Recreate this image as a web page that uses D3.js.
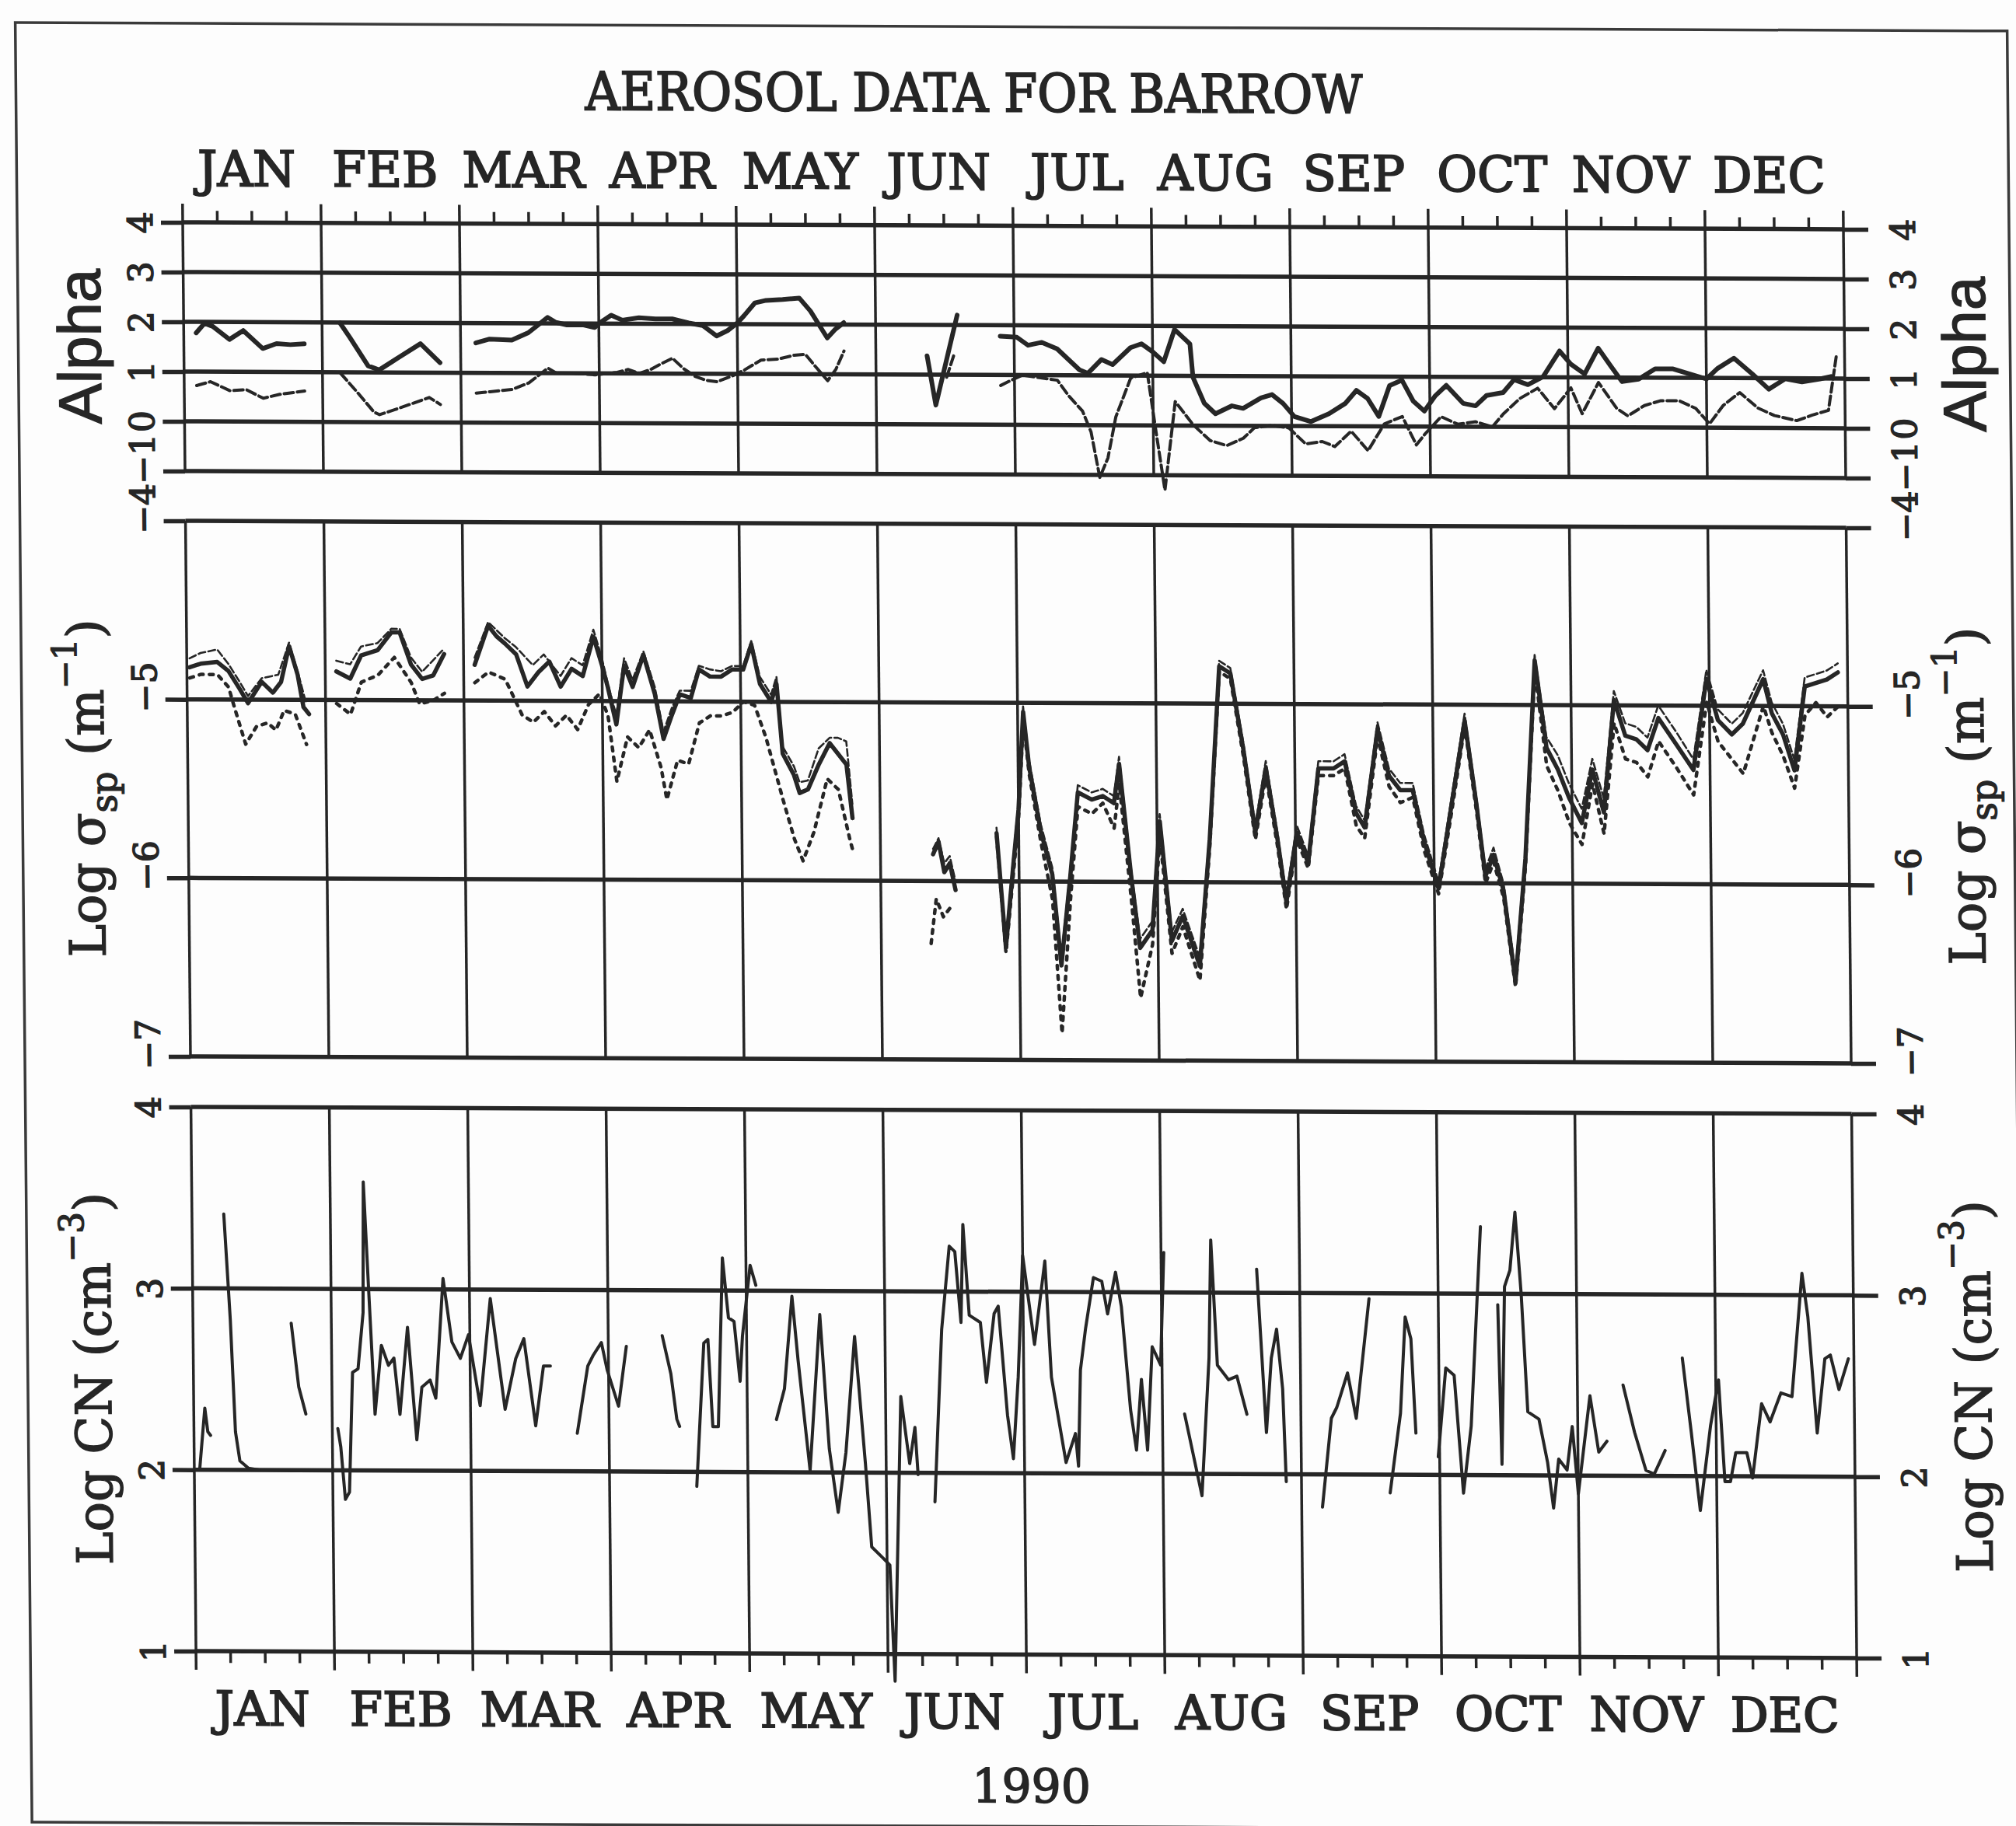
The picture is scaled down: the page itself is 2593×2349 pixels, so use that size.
<!DOCTYPE html>
<html>
<head>
<meta charset="utf-8">
<script src="https://cdn.jsdelivr.net/npm/d3@7"></script>
<style>
body { margin: 0; background: #fdfdfd; }
</style>
</head>
<body>
<script>
var width = 2593, height = 2349;

var months = ["JAN", "FEB", "MAR", "APR", "MAY", "JUN", "JUL", "AUG", "SEP", "OCT", "NOV", "DEC"];
var alphaTicks = [-1, 0, 1, 2, 3, 4];
var sigmaTicks = [-7, -6, -5, -4];
var cnTicks = [1, 2, 3, 4];

// time in months from 1 Jan 1990 (0 = start of JAN, 12 = end of DEC); null = gap in record
var alphaHi = [[0.09,1.78],[0.15,1.97],[0.21,1.91],[0.33,1.65],[0.43,1.83],[0.57,1.47],[0.67,1.57],[0.77,1.55],[0.87,1.57],null,
  [1.13,1.99],[1.2,1.7],[1.33,1.13],[1.41,1.05],[1.55,1.3],[1.71,1.58],[1.85,1.2],null,
  [2.11,1.6],[2.21,1.68],[2.37,1.66],[2.49,1.81],[2.63,2.12],[2.69,2.02],[2.77,1.97],[2.89,1.97],[2.97,1.92],[3.01,2.02],[3.09,2.17],[3.17,2.07],[3.29,2.12],[3.41,2.1],[3.53,2.1],[3.65,2.02],[3.75,1.97],[3.85,1.76],[3.93,1.87],[4.0,2.02],[4.05,2.17],[4.13,2.43],[4.21,2.48],[4.33,2.5],[4.45,2.53],[4.53,2.27],[4.61,1.91],[4.65,1.73],[4.71,1.91],[4.77,2.04],null,
  [5.37,1.38],[5.43,0.39],[5.59,2.2],null,
  [5.9,1.78],[6.02,1.76],[6.1,1.6],[6.2,1.66],[6.31,1.53],[6.39,1.32],[6.47,1.11],[6.53,1.04],[6.63,1.32],[6.71,1.22],[6.84,1.56],[6.92,1.64],[7.0,1.48],[7.08,1.28],[7.16,1.93],[7.27,1.64],[7.29,0.97],[7.37,0.45],[7.45,0.24],[7.57,0.4],[7.65,0.35],[7.78,0.56],[7.86,0.63],[7.94,0.45],[8.02,0.19],[8.14,0.09],[8.27,0.25],[8.39,0.46],[8.47,0.72],[8.55,0.56],[8.63,0.2],[8.71,0.82],[8.8,0.93],[8.88,0.51],[8.96,0.31],[9.04,0.62],[9.12,0.83],[9.24,0.47],[9.33,0.42],[9.41,0.63],[9.53,0.69],[9.61,0.95],[9.71,0.85],[9.82,1.01],[9.94,1.53],[10.02,1.27],[10.12,1.07],[10.22,1.59],[10.31,1.23],[10.39,0.92],[10.51,0.97],[10.63,1.18],[10.76,1.18],[10.88,1.08],[11.0,0.98],[11.08,1.19],[11.2,1.4],[11.33,1.09],[11.45,0.78],[11.57,0.99],[11.69,0.93],[11.82,0.99],[11.9,1.04]];

var alphaLo = [[0.09,0.72],[0.19,0.8],[0.33,0.62],[0.45,0.64],[0.57,0.47],[0.69,0.55],[0.87,0.62],null,
  [1.13,0.98],[1.25,0.6],[1.37,0.2],[1.41,0.15],[1.57,0.3],[1.77,0.5],[1.85,0.36],null,
  [2.11,0.59],[2.21,0.62],[2.37,0.67],[2.49,0.8],[2.63,1.1],[2.69,1.0],[2.81,1.0],[2.97,0.97],[3.13,1.02],[3.21,1.08],[3.29,1.0],[3.37,1.08],[3.45,1.2],[3.53,1.31],[3.61,1.1],[3.69,0.95],[3.77,0.87],[3.85,0.84],[3.97,0.97],[4.05,1.08],[4.17,1.28],[4.29,1.3],[4.41,1.38],[4.49,1.4],[4.57,1.13],[4.65,0.87],[4.71,1.1],[4.77,1.47],null,
  [5.51,0.95],[5.57,1.45],null,
  [5.9,0.79],[5.98,0.9],[6.06,1.0],[6.18,0.95],[6.31,0.9],[6.39,0.59],[6.49,0.28],[6.55,-0.14],[6.61,-1.05],[6.67,-0.66],[6.73,0.17],[6.84,0.95],[6.96,1.06],[7.02,-0.14],[7.08,-1.3],[7.16,0.48],[7.29,0.01],[7.41,-0.3],[7.53,-0.4],[7.65,-0.25],[7.73,-0.04],[7.86,0.01],[7.98,-0.04],[8.1,-0.36],[8.22,-0.31],[8.31,-0.41],[8.43,-0.1],[8.55,-0.49],[8.67,0.05],[8.8,0.2],[8.9,-0.37],[8.96,-0.16],[9.08,0.2],[9.2,0.05],[9.33,0.1],[9.45,0.0],[9.53,0.26],[9.65,0.57],[9.78,0.78],[9.9,0.37],[10.02,0.79],[10.1,0.27],[10.22,0.9],[10.35,0.38],[10.43,0.23],[10.55,0.44],[10.67,0.54],[10.8,0.54],[10.92,0.39],[11.02,0.08],[11.12,0.45],[11.24,0.71],[11.37,0.4],[11.49,0.25],[11.65,0.15],[11.76,0.26],[11.88,0.36],[11.94,1.45]];

var sigma550 = [[0.02,-4.82],[0.1,-4.8],[0.22,-4.79],[0.3,-4.84],[0.38,-4.94],[0.44,-5.02],[0.54,-4.9],[0.62,-4.96],[0.68,-4.9],[0.74,-4.7],[0.8,-4.86],[0.84,-5.04],[0.88,-5.08],null,
  [1.08,-4.84],[1.18,-4.88],[1.26,-4.75],[1.38,-4.72],[1.48,-4.62],[1.54,-4.62],[1.62,-4.8],[1.7,-4.88],[1.78,-4.86],[1.86,-4.74],null,
  [2.08,-4.8],[2.18,-4.58],[2.24,-4.64],[2.3,-4.68],[2.38,-4.74],[2.46,-4.92],[2.54,-4.84],[2.62,-4.78],[2.7,-4.92],[2.78,-4.82],[2.86,-4.86],[2.94,-4.64],[3.0,-4.8],[3.04,-4.92],[3.1,-5.13],[3.16,-4.8],[3.22,-4.92],[3.3,-4.74],[3.38,-4.96],[3.44,-5.21],[3.5,-5.08],[3.56,-4.96],[3.64,-4.98],[3.7,-4.82],[3.78,-4.86],[3.86,-4.86],[3.94,-4.82],[4.02,-4.82],[4.08,-4.68],[4.14,-4.9],[4.22,-5.0],[4.26,-4.9],[4.3,-5.29],[4.38,-5.41],[4.42,-5.51],[4.48,-5.49],[4.56,-5.35],[4.64,-5.23],[4.7,-5.29],[4.76,-5.35],[4.8,-5.65],null,
  [5.38,-5.85],[5.42,-5.78],[5.46,-5.95],[5.5,-5.9],[5.54,-6.05],null,
  [5.84,-5.73],[5.9,-6.37],[5.96,-5.9],[6.0,-5.6],[6.04,-5.05],[6.08,-5.36],[6.16,-5.72],[6.24,-5.96],[6.3,-6.47],[6.37,-5.97],[6.43,-5.5],[6.53,-5.54],[6.61,-5.52],[6.69,-5.56],[6.73,-5.34],[6.81,-5.97],[6.87,-6.37],[6.96,-6.27],[7.02,-5.66],[7.1,-6.33],[7.18,-6.19],[7.3,-6.47],[7.38,-5.76],[7.46,-4.79],[7.54,-4.83],[7.63,-5.26],[7.71,-5.72],[7.79,-5.36],[7.87,-5.76],[7.93,-6.11],[8.01,-5.72],[8.09,-5.89],[8.17,-5.36],[8.28,-5.36],[8.36,-5.32],[8.44,-5.61],[8.5,-5.69],[8.6,-5.14],[8.68,-5.4],[8.76,-5.48],[8.85,-5.48],[8.93,-5.77],[9.03,-6.03],[9.13,-5.56],[9.23,-5.09],[9.31,-5.56],[9.37,-5.96],[9.43,-5.84],[9.5,-6.04],[9.58,-6.55],[9.66,-5.86],[9.74,-4.75],[9.82,-5.24],[9.9,-5.36],[9.98,-5.52],[10.07,-5.66],[10.15,-5.36],[10.23,-5.6],[10.31,-4.97],[10.39,-5.17],[10.47,-5.19],[10.55,-5.25],[10.63,-5.07],[10.76,-5.22],[10.88,-5.36],[10.98,-4.85],[11.06,-5.08],[11.16,-5.16],[11.24,-5.1],[11.39,-4.85],[11.45,-5.04],[11.53,-5.16],[11.61,-5.36],[11.69,-4.89],[11.77,-4.87],[11.85,-4.85],[11.93,-4.81]];

var sigma450 = [[0.02,-4.77],[0.1,-4.74],[0.22,-4.72],[0.3,-4.8],[0.38,-4.9],[0.44,-4.98],[0.54,-4.88],[0.66,-4.86],[0.74,-4.68],[0.8,-4.84],[0.86,-5.02],null,
  [1.08,-4.78],[1.18,-4.8],[1.26,-4.7],[1.38,-4.68],[1.48,-4.6],[1.54,-4.6],[1.62,-4.76],[1.7,-4.84],[1.86,-4.71],null,
  [2.08,-4.76],[2.18,-4.56],[2.3,-4.65],[2.38,-4.7],[2.5,-4.8],[2.58,-4.74],[2.7,-4.86],[2.78,-4.76],[2.86,-4.8],[2.94,-4.6],[3.0,-4.76],[3.04,-4.9],[3.1,-5.08],[3.16,-4.76],[3.22,-4.88],[3.3,-4.72],[3.38,-4.92],[3.44,-5.17],[3.5,-5.04],[3.56,-4.94],[3.64,-4.94],[3.7,-4.8],[3.78,-4.82],[3.86,-4.83],[3.94,-4.8],[4.02,-4.8],[4.08,-4.66],[4.14,-4.86],[4.22,-4.96],[4.26,-4.86],[4.3,-5.25],[4.38,-5.36],[4.42,-5.45],[4.48,-5.44],[4.56,-5.26],[4.64,-5.2],[4.7,-5.2],[4.76,-5.22],[4.8,-5.57],null,
  [5.38,-5.82],[5.42,-5.76],[5.46,-5.9],[5.5,-5.86],[5.54,-6.0],null,
  [5.84,-5.7],[5.9,-6.33],[5.96,-5.86],[6.0,-5.56],[6.04,-5.02],[6.08,-5.32],[6.16,-5.68],[6.24,-5.92],[6.3,-6.42],[6.37,-5.94],[6.43,-5.46],[6.53,-5.5],[6.61,-5.48],[6.69,-5.52],[6.73,-5.3],[6.81,-5.93],[6.87,-6.32],[6.96,-6.22],[7.02,-5.62],[7.1,-6.28],[7.18,-6.15],[7.3,-6.42],[7.38,-5.72],[7.46,-4.76],[7.54,-4.8],[7.63,-5.22],[7.71,-5.68],[7.79,-5.32],[7.87,-5.72],[7.93,-6.07],[8.01,-5.68],[8.09,-5.85],[8.17,-5.32],[8.28,-5.32],[8.36,-5.28],[8.44,-5.57],[8.5,-5.65],[8.6,-5.1],[8.68,-5.36],[8.76,-5.44],[8.85,-5.44],[8.93,-5.73],[9.03,-5.99],[9.13,-5.52],[9.23,-5.05],[9.31,-5.52],[9.37,-5.92],[9.43,-5.8],[9.5,-6.0],[9.58,-6.5],[9.66,-5.82],[9.74,-4.72],[9.82,-5.18],[9.9,-5.28],[9.98,-5.44],[10.07,-5.58],[10.15,-5.3],[10.23,-5.52],[10.31,-4.92],[10.39,-5.1],[10.47,-5.12],[10.55,-5.18],[10.63,-5.0],[10.76,-5.15],[10.88,-5.3],[10.98,-4.8],[11.06,-5.02],[11.16,-5.1],[11.24,-5.04],[11.39,-4.8],[11.45,-4.98],[11.53,-5.1],[11.61,-5.3],[11.69,-4.84],[11.77,-4.82],[11.85,-4.8],[11.93,-4.76]];

var sigma700 = [[0.02,-4.88],[0.1,-4.86],[0.22,-4.86],[0.3,-4.93],[0.34,-5.04],[0.42,-5.25],[0.5,-5.15],[0.58,-5.13],[0.64,-5.17],[0.7,-5.06],[0.78,-5.08],[0.86,-5.25],null,
  [1.08,-5.02],[1.18,-5.08],[1.26,-4.9],[1.38,-4.86],[1.5,-4.76],[1.62,-4.9],[1.68,-5.02],[1.78,-5.0],[1.86,-4.96],null,
  [2.08,-4.9],[2.18,-4.84],[2.3,-4.88],[2.42,-5.08],[2.5,-5.12],[2.58,-5.06],[2.66,-5.14],[2.74,-5.08],[2.82,-5.16],[2.9,-5.02],[2.98,-4.96],[3.04,-5.08],[3.1,-5.45],[3.18,-5.2],[3.26,-5.26],[3.34,-5.16],[3.42,-5.37],[3.46,-5.55],[3.54,-5.33],[3.62,-5.35],[3.7,-5.12],[3.78,-5.08],[3.86,-5.08],[3.94,-5.06],[4.02,-5.0],[4.1,-5.02],[4.18,-5.2],[4.3,-5.55],[4.38,-5.77],[4.44,-5.89],[4.52,-5.73],[4.62,-5.43],[4.7,-5.49],[4.78,-5.77],[4.8,-5.83],null,
  [5.36,-6.35],[5.4,-6.1],[5.45,-6.2],[5.5,-6.15],null,
  [5.84,-5.75],[5.9,-6.4],[5.96,-5.95],[6.0,-5.65],[6.04,-5.1],[6.08,-5.4],[6.16,-5.78],[6.24,-6.1],[6.3,-6.85],[6.37,-6.1],[6.43,-5.58],[6.53,-5.62],[6.61,-5.56],[6.69,-5.7],[6.73,-5.45],[6.81,-6.1],[6.87,-6.65],[6.96,-6.35],[7.02,-5.75],[7.1,-6.4],[7.18,-6.25],[7.3,-6.55],[7.38,-5.8],[7.46,-4.82],[7.54,-4.86],[7.63,-5.3],[7.71,-5.76],[7.79,-5.4],[7.87,-5.8],[7.93,-6.15],[8.01,-5.76],[8.09,-5.92],[8.17,-5.4],[8.28,-5.4],[8.36,-5.36],[8.44,-5.68],[8.5,-5.75],[8.6,-5.18],[8.68,-5.46],[8.76,-5.55],[8.85,-5.52],[8.93,-5.82],[9.03,-6.06],[9.13,-5.6],[9.23,-5.12],[9.31,-5.6],[9.37,-6.0],[9.43,-5.88],[9.5,-6.08],[9.58,-6.58],[9.66,-5.9],[9.74,-4.8],[9.82,-5.34],[9.9,-5.48],[9.98,-5.66],[10.07,-5.78],[10.15,-5.44],[10.23,-5.72],[10.31,-5.1],[10.39,-5.3],[10.47,-5.32],[10.55,-5.4],[10.63,-5.2],[10.76,-5.35],[10.88,-5.5],[10.98,-4.98],[11.06,-5.2],[11.16,-5.3],[11.24,-5.38],[11.39,-5.0],[11.45,-5.15],[11.53,-5.28],[11.61,-5.46],[11.69,-5.05],[11.77,-4.98],[11.85,-5.06],[11.93,-5.0]];

var logCN = [[0.04,2.01],[0.08,2.34],[0.1,2.21],[0.12,2.19],null,
  [0.23,3.41],[0.27,2.83],[0.3,2.21],[0.33,2.05],[0.39,2.01],[0.47,2.0],null,
  [0.71,2.81],[0.76,2.46],[0.81,2.31],null,
  [1.04,2.23],[1.06,2.13],[1.09,1.84],[1.12,1.88],[1.15,2.54],[1.19,2.56],[1.23,2.87],[1.24,3.59],[1.27,3.03],[1.31,2.31],[1.36,2.69],[1.41,2.58],[1.45,2.62],[1.49,2.31],[1.55,2.79],[1.61,2.17],[1.65,2.46],[1.71,2.5],[1.75,2.4],[1.81,3.06],[1.87,2.71],[1.93,2.62],[1.99,2.75],[2.07,2.36],[2.15,2.95],[2.25,2.34],[2.33,2.62],[2.39,2.73],[2.47,2.25],[2.53,2.58],[2.58,2.58],null,
  [2.77,2.21],[2.85,2.58],[2.89,2.64],[2.95,2.71],[2.99,2.56],[3.07,2.36],[3.13,2.69],null,
  [3.39,2.75],[3.45,2.54],[3.49,2.29],[3.51,2.25],null,
  [3.63,1.92],[3.69,2.71],[3.72,2.73],[3.75,2.25],[3.79,2.25],[3.83,3.18],[3.87,2.85],[3.91,2.83],[3.95,2.5],[3.97,2.75],[4.03,3.14],[4.07,3.03],null,
  [4.21,2.29],[4.27,2.46],[4.33,2.97],[4.37,2.62],[4.45,2.01],[4.53,2.87],[4.59,2.13],[4.65,1.78],[4.71,2.11],[4.78,2.75],[4.85,2.05],[4.89,1.59],[4.97,1.53],[5.02,1.49],[5.05,0.85],[5.11,2.42],[5.17,2.05],[5.21,2.25],[5.23,1.99],null,
  [5.35,1.84],[5.41,2.79],[5.47,3.25],[5.51,3.22],[5.55,2.83],[5.57,3.37],[5.61,2.87],[5.69,2.83],[5.73,2.5],[5.79,2.88],[5.82,2.92],[5.88,2.32],[5.92,2.08],[5.96,2.53],[6.0,3.2],[6.08,2.71],[6.16,3.17],[6.2,2.53],[6.3,2.06],[6.37,2.22],[6.39,2.04],[6.41,2.57],[6.45,2.8],[6.51,3.08],[6.57,3.06],[6.61,2.88],[6.67,3.11],[6.71,2.92],[6.77,2.35],[6.81,2.13],[6.85,2.52],[6.89,2.13],[6.93,2.7],[6.99,2.6],[7.02,3.22],null,
  [7.16,2.33],[7.28,1.88],[7.34,2.64],[7.36,3.29],[7.4,2.6],[7.48,2.52],[7.54,2.54],[7.61,2.33],null,
  [7.69,3.13],[7.75,2.23],[7.79,2.64],[7.83,2.8],[7.87,2.47],[7.89,1.96],null,
  [8.15,1.82],[8.22,2.31],[8.26,2.37],[8.34,2.56],[8.4,2.31],[8.5,2.97],null,
  [8.64,1.9],[8.72,2.34],[8.76,2.87],[8.8,2.75],[8.83,2.23],null,
  [8.99,2.1],[9.05,2.59],[9.11,2.55],[9.17,1.9],[9.23,2.27],[9.31,3.37],null,
  [9.43,2.94],[9.45,2.06],[9.48,3.04],[9.52,3.13],[9.56,3.45],[9.6,3.0],[9.64,2.35],[9.72,2.31],[9.78,2.07],[9.82,1.82],[9.86,2.09],[9.92,2.03],[9.96,2.27],[10.0,1.9],[10.09,2.44],[10.15,2.13],[10.21,2.19],null,
  [10.33,2.5],[10.41,2.24],[10.49,2.03],[10.55,2.01],[10.63,2.14],null,
  [10.76,2.65],[10.82,2.24],[10.88,1.81],[10.96,2.28],[11.02,2.53],[11.06,1.97],[11.1,1.97],[11.14,2.13],[11.22,2.13],[11.26,1.99],[11.33,2.4],[11.39,2.3],[11.47,2.46],[11.55,2.44],[11.63,3.12],[11.67,2.88],[11.73,2.24],[11.79,2.65],[11.83,2.67],[11.89,2.48],[11.96,2.65]];

var ink = "#262626";
var serif = "'DejaVu Serif', 'Liberation Serif', serif";

var svg = d3.select("body").append("svg")
    .attr("width", width)
    .attr("height", height);

svg.append("rect")
    .attr("width", width)
    .attr("height", height)
    .attr("fill", "#fdfdfd");

// the scan is slightly sheared, so the whole figure is too
var g = svg.append("g")
    .attr("transform", "matrix(1,0.0042,0.0093,1,-2.66,-0.99)");

g.append("rect")
    .attr("x", 22).attr("y", 30)
    .attr("width", 2562).attr("height", 2315)
    .attr("fill", "none")
    .attr("stroke", "#3a3a3a")
    .attr("stroke-width", 3.5);

var x = d3.scaleLinear().domain([0, 12]).range([235, 2371]);
var yA = d3.scaleLinear().domain([-1, 4]).range([606, 286]);
var yS = d3.scaleLinear().domain([-7, -4]).range([1359, 670]);
var yC = d3.scaleLinear().domain([1, 4]).range([2124, 1424]);

var panels = [
  {y: yA, ticks: alphaTicks, top: 24, bottom: 0},
  {y: yS, ticks: sigmaTicks, top: 0, bottom: 0},
  {y: yC, ticks: cnTicks, top: 0, bottom: 24}
];

panels.forEach(function(p) {
  var r = p.y.range();
  // month lines
  g.append("g").selectAll("line")
    .data(d3.range(13))
    .join("line")
    .attr("x1", function(d) { return x(d); })
    .attr("x2", function(d) { return x(d); })
    .attr("y1", r[1] - p.top)
    .attr("y2", r[0] + p.bottom)
    .attr("stroke", ink)
    .attr("stroke-width", 3.5);
  // value lines
  g.append("g").selectAll("line")
    .data(p.ticks)
    .join("line")
    .attr("x1", x(0))
    .attr("x2", x(12))
    .attr("y1", function(d) { return p.y(d); })
    .attr("y2", function(d) { return p.y(d); })
    .attr("stroke", ink)
    .attr("stroke-width", 5.5);

  var left = g.append("g")
    .attr("transform", "translate(" + x(0) + ",0)")
    .call(d3.axisLeft(p.y).tickValues(p.ticks).tickSize(28).tickSizeOuter(0));
  var right = g.append("g")
    .attr("transform", "translate(" + x(12) + ",0)")
    .call(d3.axisRight(p.y).tickValues(p.ticks).tickSize(32).tickSizeOuter(0));

  [[left, -55], [right, 76]].forEach(function(a) {
    a[0].select(".domain").remove();
    a[0].selectAll(".tick line")
      .attr("stroke", ink)
      .attr("stroke-width", 5.5);
    a[0].selectAll(".tick text")
      .attr("x", null)
      .attr("dy", "0.36em")
      .attr("text-anchor", "middle")
      .attr("transform", function(d) { return "translate(" + a[1] + "," + (d < 0 ? -16 : 0) + ") rotate(-90)"; })
      .attr("font-family", serif)
      .attr("font-size", 44)
      .attr("fill", ink)
      .attr("stroke", ink)
      .attr("stroke-width", 1.6)
      .text(function(d) { return d < 0 ? "\u2212" + Math.abs(d) : d; });
  });
});

// quarter-month ticks on top and bottom
var quarters = [];
d3.range(12).forEach(function(m) { [0.25, 0.5, 0.75].forEach(function(q) { quarters.push(m + q); }); });
g.append("g").selectAll("line")
  .data(quarters)
  .join("line")
  .attr("x1", function(d) { return x(d); })
  .attr("x2", function(d) { return x(d); })
  .attr("y1", yA(4))
  .attr("y2", yA(4) - 15)
  .attr("stroke", ink)
  .attr("stroke-width", 3.5);
g.append("g").selectAll("line")
  .data(quarters)
  .join("line")
  .attr("x1", function(d) { return x(d); })
  .attr("x2", function(d) { return x(d); })
  .attr("y1", yC(1))
  .attr("y2", yC(1) + 15)
  .attr("stroke", ink)
  .attr("stroke-width", 3.5);

function drawSeries(data, y, w, dash) {
  var line = d3.line()
    .defined(function(d) { return d !== null; })
    .x(function(d) { return x(d[0]); })
    .y(function(d) { return y(d[1]); });
  g.append("path")
    .datum(data)
    .attr("d", line)
    .attr("fill", "none")
    .attr("stroke", ink)
    .attr("stroke-width", w)
    .attr("stroke-linejoin", "round")
    .attr("stroke-linecap", "round")
    .attr("stroke-dasharray", dash);
}

drawSeries(alphaLo, yA, 4, "12,5");
drawSeries(alphaHi, yA, 6, null);
drawSeries(sigma700, yS, 4.5, "5,8");
drawSeries(sigma450, yS, 2.6, "9,4");
drawSeries(sigma550, yS, 5.5, null);
drawSeries(logCN, yC, 4, null);

// titles and labels
function heavy(sel, w) {
  return sel.attr("fill", ink).attr("stroke", ink).attr("stroke-width", w);
}

heavy(g.append("text")
    .text("AEROSOL DATA FOR BARROW")
    .attr("x", 1254)
    .attr("y", 139)
    .attr("text-anchor", "middle")
    .attr("font-family", serif)
    .attr("font-size", 68)
    .attr("textLength", 1000)
    .attr("lengthAdjust", "spacingAndGlyphs"), 2);

heavy(g.append("g").selectAll("text")
  .data(months)
  .join("text")
  .text(function(d) { return d; })
  .attr("x", function(d, i) { return x(i + 0.5) - 6; })
  .attr("y", 239)
  .attr("text-anchor", "middle")
  .attr("font-family", serif)
  .attr("font-size", 63), 2);

heavy(g.append("g").selectAll("text")
  .data(months)
  .join("text")
  .text(function(d) { return d; })
  .attr("x", function(d, i) { return x(i + 0.5) - 4; })
  .attr("y", 2219)
  .attr("text-anchor", "middle")
  .attr("font-family", serif)
  .attr("font-size", 61), 2);

heavy(g.append("text")
    .text("1990")
    .attr("x", 1308)
    .attr("y", 2314)
    .attr("text-anchor", "middle")
    .attr("font-family", serif)
    .attr("font-size", 60), 1.6);

function axisTitle(xPos, yPos, kind) {
  var t = g.append("text")
    .attr("transform", "translate(" + xPos + "," + yPos + ") rotate(-90)")
    .attr("text-anchor", "middle")
    .attr("dy", "0.36em");
  heavy(t, 1.4);
  if (kind === "alpha") {
    t.attr("font-family", "'Liberation Sans', Arial, sans-serif")
      .attr("font-size", 78)
      .text("Alpha");
  } else if (kind === "sigma") {
    t.attr("font-family", serif).attr("font-size", 64);
    t.append("tspan").text("Log \u03c3");
    t.append("tspan").attr("dy", 16).attr("font-size", 46).text("sp");
    t.append("tspan").attr("dy", -16).text(" (m");
    t.append("tspan").attr("dy", -34).attr("font-size", 44).text("\u22121");
    t.append("tspan").attr("dy", 34).text(")");
  } else {
    t.attr("font-family", serif).attr("font-size", 64);
    t.append("tspan").text("Log CN (cm");
    t.append("tspan").attr("dy", -34).attr("font-size", 44).text("\u22123");
    t.append("tspan").attr("dy", 34).text(")");
  }
}

axisTitle(100, yA(1.5), "alpha");
axisTitle(2524, yA(1.5), "alpha");
axisTitle(104, yS(-5.5), "sigma");
axisTitle(2522, yS(-5.5), "sigma");
axisTitle(106, yC(2.5), "cn");
axisTitle(2524, yC(2.5), "cn");
</script>
</body>
</html>
